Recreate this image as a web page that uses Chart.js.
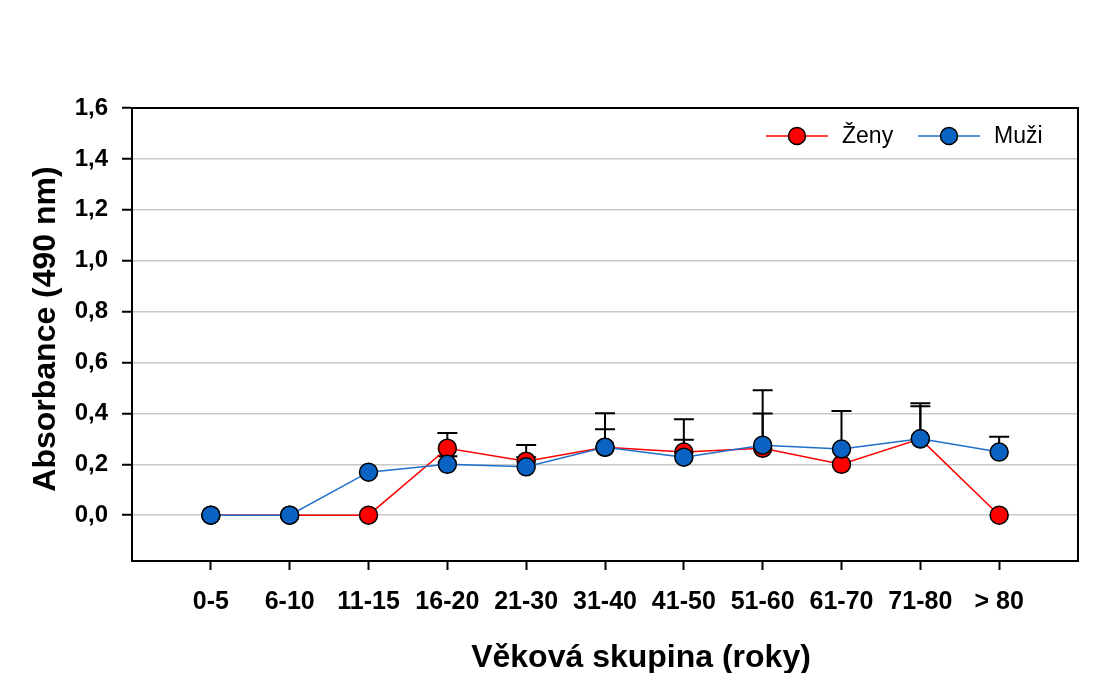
<!DOCTYPE html>
<html>
<head>
<meta charset="utf-8">
<style>
  body { margin: 0; background: #fff; }
  #wrap { width: 1118px; height: 673px; }
</style>
<script src="https://cdn.jsdelivr.net/npm/chart.js@4"></script>
</head>
<body>
<div id="wrap"><canvas id="absChart" width="1118" height="673"></canvas></div>
<script>
const categories = ["0-5", "6-10", "11-15", "16-20", "21-30", "31-40", "41-50", "51-60", "61-70", "71-80", "> 80"];
const zeny = [0, 0, 0, 0.263, 0.212, 0.267, 0.248, 0.263, 0.20, 0.30, 0];
const muzi = [0, 0, 0.169, 0.20, 0.19, 0.267, 0.228, 0.275, 0.26, 0.30, 0.248];
// upper error bar lengths
const zenyErr = [0, 0, 0, 0.06, 0.064, 0.134, 0.129, 0.228, 0.209, 0.14, 0];
const muziErr = [0, 0, 0, 0.032, 0.038, 0.071, 0.068, 0.125, 0, 0.128, 0.06];
const yTicks = [0, 0.2, 0.4, 0.6, 0.8, 1.0, 1.2, 1.4, 1.6];

const FONT = "'Liberation Sans', Arial, sans-serif";

const toPoints = arr => arr.map((v, i) => ({ x: i, y: v }));

const errorBars = {
  id: "errorBars",
  beforeDatasetsDraw(chart) {
    const ctx = chart.ctx;
    const xs = chart.scales.x, ys = chart.scales.y;
    const errs = [zenyErr, muziErr];
    const vals = [zeny, muzi];
    ctx.save();
    ctx.strokeStyle = "#000";
    ctx.lineWidth = 2;
    errs.forEach((err, d) => {
      err.forEach((e, i) => {
        if (!e) return;
        const px = xs.getPixelForValue(i);
        const y0 = ys.getPixelForValue(vals[d][i]);
        const y1 = ys.getPixelForValue(vals[d][i] + e);
        ctx.beginPath();
        ctx.moveTo(px, y0);
        ctx.lineTo(px, y1);
        ctx.moveTo(px - 10, y1);
        ctx.lineTo(px + 10, y1);
        ctx.stroke();
      });
    });
    ctx.restore();
  }
};

const decorations = {
  id: "decorations",
  afterDraw(chart) {
    const ctx = chart.ctx;
    const a = chart.chartArea;
    ctx.save();
    // plot frame
    ctx.strokeStyle = "#000";
    ctx.lineWidth = 2;
    ctx.strokeRect(a.left, a.top, a.right - a.left, a.bottom - a.top);

    // axis titles
    ctx.fillStyle = "#000";
    ctx.font = "bold 32px " + FONT;
    ctx.textAlign = "center";
    ctx.textBaseline = "alphabetic";
    ctx.fillText("Věková skupina (roky)", 641, 667);
    ctx.translate(55, 329);
    ctx.rotate(-Math.PI / 2);
    ctx.fillText("Absorbance (490 nm)", 0, 0);
    ctx.restore();

    // legend inside plot
    ctx.save();
    const items = [
      { label: "Ženy", color: "#ff0000", fill: "#ff0000", x: 766 },
      { label: "Muži", color: "#1f6fc9", fill: "#0a62c2", x: 918 }
    ];
    const ly = 136;
    ctx.font = "23px " + FONT;
    ctx.textBaseline = "middle";
    ctx.textAlign = "left";
    items.forEach(it => {
      ctx.strokeStyle = it.color;
      ctx.lineWidth = 1.5;
      ctx.beginPath();
      ctx.moveTo(it.x, ly);
      ctx.lineTo(it.x + 62, ly);
      ctx.stroke();
      ctx.beginPath();
      ctx.arc(it.x + 31, ly, 8.5, 0, Math.PI * 2);
      ctx.fillStyle = it.fill;
      ctx.fill();
      ctx.strokeStyle = "#000";
      ctx.lineWidth = 1.5;
      ctx.stroke();
      ctx.fillStyle = "#000";
      ctx.fillText(it.label, it.x + 76, ly + 1);
    });
    ctx.restore();
  }
};

const ctx = document.getElementById("absChart").getContext("2d");
new Chart(ctx, {
  type: "line",
  data: {
    datasets: [
      {
        label: "Ženy",
        data: toPoints(zeny),
        borderColor: "#ff0000",
        backgroundColor: "#ff0000",
        pointBackgroundColor: "#ff0000",
        pointBorderColor: "#000",
        pointBorderWidth: 1.5,
        pointRadius: 9,
        borderWidth: 1.5,
        tension: 0,
        order: 2
      },
      {
        label: "Muži",
        data: toPoints(muzi),
        borderColor: "#1f6fc9",
        backgroundColor: "#0a62c2",
        pointBackgroundColor: "#0a62c2",
        pointBorderColor: "#000",
        pointBorderWidth: 1.5,
        pointRadius: 9,
        borderWidth: 1.5,
        tension: 0,
        order: 1
      }
    ]
  },
  options: {
    responsive: false,
    animation: false,
    layout: { padding: { left: 0, top: 108, right: 40, bottom: 0 } },
    plugins: {
      legend: { display: false },
      tooltip: { enabled: false }
    },
    scales: {
      x: {
        type: "linear",
        min: -1,
        max: 11,
        afterBuildTicks: s => { s.ticks = categories.map((c, i) => ({ value: i })); },
        afterFit: s => { s.height = 112; },
        grid: { display: true, drawOnChartArea: false, drawTicks: true, tickLength: 9, tickColor: "#000", tickWidth: 2 },
        border: { display: false },
        ticks: {
          autoSkip: false,
          maxRotation: 0,
          padding: 17,
          color: "#000",
          font: { family: FONT, size: 25, weight: "bold" },
          callback: v => categories[v] ?? ""
        }
      },
      y: {
        min: -0.18,
        max: 1.6,
        afterBuildTicks: s => { s.ticks = yTicks.map(v => ({ value: v })); },
        afterFit: s => { s.width = 132; },
        grid: { color: "#c8c8c8", lineWidth: 1.5, tickColor: "#000", tickWidth: 2, tickLength: 10 },
        border: { display: true, color: "#000", width: 2 },
        ticks: {
          padding: 14,
          color: "#000",
          font: { family: FONT, size: 24, weight: "bold" },
          callback: v => v.toFixed(1).replace(".", ",")
        }
      }
    }
  },
  plugins: [errorBars, decorations]
});
</script>
</body>
</html>
